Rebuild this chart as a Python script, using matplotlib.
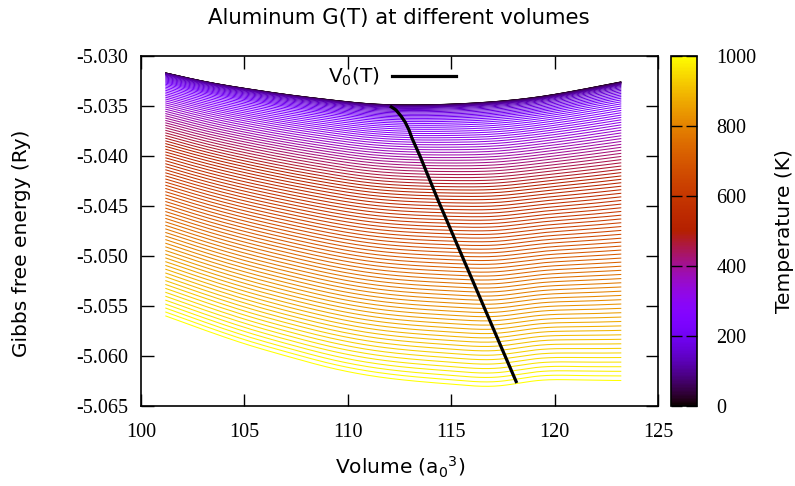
import numpy as np
import matplotlib
matplotlib.use("Agg")
import matplotlib.pyplot as plt
from matplotlib.lines import Line2D
from matplotlib import colors

plt.rcParams['axes.unicode_minus'] = False
plt.rcParams['mathtext.fontset'] = 'dejavusans'
plt.rcParams['font.family'] = ['DejaVu Sans']

# ---------------- data ----------------
volumes = [101.2, 103.2, 105.2, 107.2, 109.2, 111.2, 113.2, 115.2, 117.2, 119.2, 121.2, 123.2]
key_temps = [0, 100, 200, 300, 400, 500, 600, 700, 800, 900, 1000]
# Gibbs free energy (Ry) at each volume, one row per key temperature
G_T0    = [-5.03170, -5.03260, -5.03330, -5.03390, -5.03440, -5.03480, -5.03490, -5.03480, -5.03455, -5.03410, -5.03340, -5.03260]
G_T100  = [-5.03181, -5.03272, -5.03343, -5.03404, -5.03455, -5.03496, -5.03507, -5.03498, -5.03474, -5.03430, -5.03361, -5.03283]
G_T200  = [-5.03260, -5.03355, -5.03430, -5.03496, -5.03551, -5.03596, -5.03610, -5.03605, -5.03585, -5.03543, -5.03479, -5.03406]
G_T300  = [-5.03413, -5.03513, -5.03595, -5.03666, -5.03726, -5.03775, -5.03795, -5.03794, -5.03779, -5.03737, -5.03680, -5.03615]
G_T400  = [-5.03622, -5.03728, -5.03817, -5.03894, -5.03961, -5.04014, -5.04038, -5.04043, -5.04032, -5.03991, -5.03940, -5.03884]
G_T500  = [-5.03877, -5.03990, -5.04086, -5.04170, -5.04243, -5.04301, -5.04329, -5.04339, -5.04333, -5.04291, -5.04247, -5.04200]
G_T600  = [-5.04169, -5.04289, -5.04393, -5.04483, -5.04564, -5.04626, -5.04659, -5.04674, -5.04672, -5.04628, -5.04593, -5.04555]
G_T700  = [-5.04489, -5.04617, -5.04729, -5.04827, -5.04915, -5.04982, -5.05019, -5.05039, -5.05041, -5.04996, -5.04967, -5.04941]
G_T800  = [-5.04837, -5.04972, -5.05093, -5.05198, -5.05293, -5.05364, -5.05406, -5.05431, -5.05438, -5.05390, -5.05369, -5.05352]
G_T900  = [-5.05209, -5.05351, -5.05482, -5.05596, -5.05696, -5.05772, -5.05818, -5.05848, -5.05858, -5.05807, -5.05794, -5.05788]
G_T1000 = [-5.05600, -5.05750, -5.05890, -5.06010, -5.06120, -5.06200, -5.06250, -5.06285, -5.06300, -5.06245, -5.06240, -5.06245]
plot_temps = list(range(0, 1001, 10))

# equilibrium volume line V0(T)
v0_volume = [112.04, 112.33, 112.57, 112.77, 112.96, 113.10, 113.49, 114.36, 115.40, 116.44, 117.48, 118.17]
v0_energy = [-5.0350, -5.0354, -5.0360, -5.0366, -5.0374, -5.0382, -5.0400, -5.0444, -5.0494, -5.0544, -5.0594, -5.0627]

x_ticks = [100, 105, 110, 115, 120, 125]
y_ticks = [-5.030, -5.035, -5.040, -5.045, -5.050, -5.055, -5.060, -5.065]
cbar_ticks = [0, 200, 400, 600, 800, 1000]

G_table = np.array([G_T0, G_T100, G_T200, G_T300, G_T400, G_T500,
                    G_T600, G_T700, G_T800, G_T900, G_T1000])


# ---------------- smoothing helpers ----------------
def natural_spline(x, y, xn):
    x = np.asarray(x, float); y = np.asarray(y, float); xn = np.asarray(xn, float)
    n = len(x); h = np.diff(x)
    A = np.zeros((n, n)); b = np.zeros(n)
    A[0, 0] = A[-1, -1] = 1.0
    for i in range(1, n - 1):
        A[i, i - 1] = h[i - 1]; A[i, i] = 2 * (h[i - 1] + h[i]); A[i, i + 1] = h[i]
        b[i] = 3 * ((y[i + 1] - y[i]) / h[i] - (y[i] - y[i - 1]) / h[i - 1])
    c = np.linalg.solve(A, b)
    idx = np.clip(np.searchsorted(x, xn) - 1, 0, n - 2)
    dx = xn - x[idx]
    bb = (y[1:] - y[:-1]) / h - h * (2 * c[:-1] + c[1:]) / 3
    d = (c[1:] - c[:-1]) / (3 * h)
    return y[idx] + bb[idx] * dx + c[idx] * dx ** 2 + d[idx] * dx ** 3


def pchip(x, y, xn):
    x = np.asarray(x, float); y = np.asarray(y, float); xn = np.asarray(xn, float)
    n = len(x); h = np.diff(x); delta = np.diff(y) / h
    d = np.zeros(n)
    for k in range(1, n - 1):
        if delta[k - 1] * delta[k] > 0:
            w1 = 2 * h[k] + h[k - 1]; w2 = h[k] + 2 * h[k - 1]
            d[k] = (w1 + w2) / (w1 / delta[k - 1] + w2 / delta[k])
    d[0] = 0.0
    d[-1] = delta[-1]
    idx = np.clip(np.searchsorted(x, xn) - 1, 0, n - 2)
    t = (xn - x[idx]) / h[idx]
    h00 = 2 * t ** 3 - 3 * t ** 2 + 1; h10 = t ** 3 - 2 * t ** 2 + t
    h01 = -2 * t ** 3 + 3 * t ** 2; h11 = t ** 3 - t ** 2
    return h00 * y[idx] + h10 * h[idx] * d[idx] + h01 * y[idx + 1] + h11 * h[idx] * d[idx + 1]


# ---------------- figure ----------------
W, H = 795, 486
fig = plt.figure(figsize=(W / 100, H / 100), dpi=100)
ax = fig.add_axes([141 / W, 1 - 406 / H, (658 - 141) / W, (406 - 56) / H])
cax = fig.add_axes([671 / W, 1 - 406 / H, 26 / W, (406 - 56) / H])

cmap = plt.get_cmap('gnuplot')
norm = colors.Normalize(vmin=0, vmax=1000)

vfine = np.linspace(volumes[0], volumes[-1], 300)
# G at every plotted temperature for each sampled volume
G_cols = np.array([pchip(key_temps, G_table[:, j], plot_temps) for j in range(len(volumes))]).T
for T, row in zip(plot_temps, G_cols):
    ax.plot(vfine, natural_spline(volumes, row, vfine), color=cmap(norm(T)), lw=0.75, zorder=2)

ax.plot(v0_volume, v0_energy, color='black', lw=2.3, zorder=5,
        solid_capstyle='butt', solid_joinstyle='round')

ax.set_xlim(100, 125)
ax.set_ylim(-5.065, -5.030)
ax.set_xticks(x_ticks)
ax.set_yticks(y_ticks)
ax.set_xticklabels([str(v) for v in x_ticks])
ax.set_yticklabels(['%.3f' % v for v in y_ticks])
ax.tick_params(direction='in', length=9, width=1.0, top=True, right=True,
               labelsize=14.5, labelfontfamily='Liberation Serif', colors='black')
ax.tick_params(axis='x', pad=12)
ax.tick_params(axis='y', pad=9)
for s in ax.spines.values():
    s.set_linewidth(1.2)

handle = Line2D([0], [0], color='black', lw=2.3)
leg = ax.legend([handle], [r'$\mathregular{V_0}$(T)'], loc='center',
                bbox_to_anchor=((392 - 141) / 517, (406 - 77) / 350), frameon=False,
                markerfirst=False, handlelength=3.2, fontsize=14.5, handletextpad=0.6)

sm = plt.cm.ScalarMappable(norm=norm, cmap=cmap)
cb = fig.colorbar(sm, cax=cax, ticks=cbar_ticks)
cb.outline.set_linewidth(1.2)
cax.tick_params(direction='in', length=8, width=1.0, left=True, right=True,
                labelsize=14.5, labelfontfamily='Liberation Serif', pad=14)
cax.set_yticklabels([str(t) for t in cbar_ticks])

fig.text(399 / W, 1 - 18 / H, 'Aluminum G(T) at different volumes', ha='center', va='center', fontsize=15.3)
fig.text(400 / W, 1 - 467 / H, r'Volume ($\mathregular{a_{0}{}^{3}}$)', ha='center', va='center', fontsize=14.5)
fig.text(22 / W, 1 - 243 / H, 'Gibbs free energy (Ry)', ha='center', va='center', rotation=90, fontsize=14.5)
fig.text(785 / W, 1 - 231 / H, 'Temperature (K)', ha='center', va='center', rotation=90, fontsize=14.5)

fig.savefig('out.png', dpi=100)
